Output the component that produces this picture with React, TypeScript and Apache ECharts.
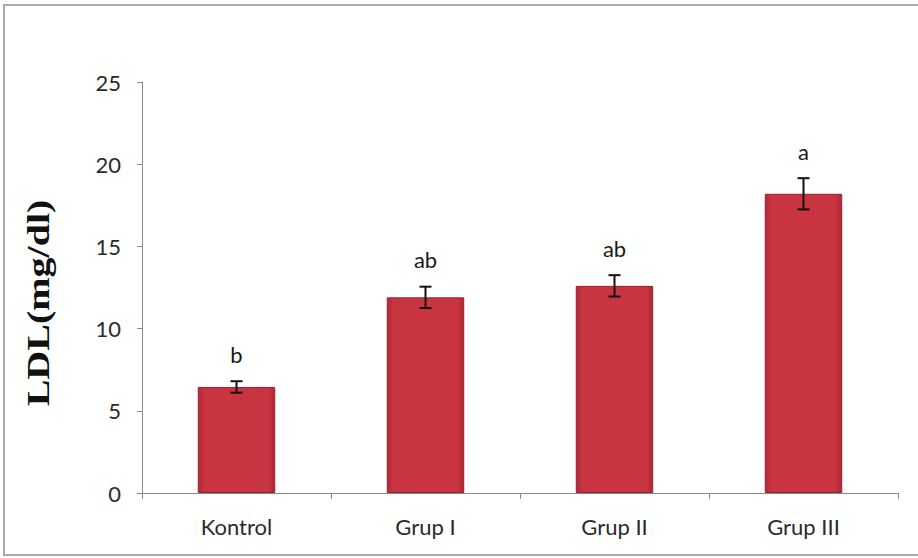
import React, { useEffect, useRef } from "react";
import * as echarts from "echarts";

// Groups and measured LDL values (mean ± error)
const categories = ["Kontrol", "Grup I", "Grup II", "Grup III"];
const meanValues = [6.45, 11.9, 12.6, 18.2];
const errorValues = [0.35, 0.65, 0.65, 0.95];
const significanceLetters = ["b", "ab", "ab", "a"];
const yTicks = { min: 0, max: 25, interval: 5 };

const tickFont = "Lato, 'Open Sans', 'Liberation Sans', sans-serif";

export default function App() {
  const ref = useRef<HTMLDivElement>(null);

  useEffect(() => {
    if (!ref.current) return;
    const chart = echarts.init(ref.current, undefined, { renderer: "svg" });

    const errorData = meanValues.map((m, i) => [i, m, errorValues[i]]);

    const option: echarts.EChartsOption = {
      animation: false,
      backgroundColor: "#ffffff",
      grid: { left: 142, right: 20, top: 82, bottom: 65 },
      graphic: [
        {
          type: "rect",
          shape: { x: 4, y: 5, width: 930, height: 550 },
          style: { fill: "none", stroke: "#a9a9a9", lineWidth: 2 },
          silent: true,
        },
        {
          type: "text",
          x: 38,
          y: 303,
          rotation: Math.PI / 2,
          scaleX: 1.25,
          style: {
            text: "LDL(mg/dl)",
            font: "bold 32px 'Liberation Serif', 'Times New Roman', serif",
            fill: "#111111",
            align: "center",
            verticalAlign: "middle",
          },
        },
      ],
      xAxis: {
        type: "category",
        data: categories,
        axisLine: { lineStyle: { color: "#8a8a8a", width: 1 } },
        axisTick: { show: true, length: 6, lineStyle: { color: "#8a8a8a" } },
        axisLabel: {
          color: "#2a2a2a",
          fontSize: 22,
          fontFamily: tickFont,
          margin: 22,
        },
      },
      yAxis: {
        type: "value",
        min: yTicks.min,
        max: yTicks.max,
        interval: yTicks.interval,
        splitLine: { show: false },
        axisLine: { show: true, lineStyle: { color: "#8a8a8a", width: 1 } },
        axisTick: { show: true, length: 5, lineStyle: { color: "#8a8a8a" } },
        axisLabel: {
          color: "#2a2a2a",
          fontSize: 22,
          fontFamily: tickFont,
          margin: 21,
        },
      },
      series: [
        {
          type: "bar",
          data: meanValues,
          barWidth: "41%",
          itemStyle: {
            color: new echarts.graphic.LinearGradient(0, 0, 1, 0, [
              { offset: 0, color: "#b0283a" },
              { offset: 0.08, color: "#c8343f" },
              { offset: 0.92, color: "#c8343f" },
              { offset: 1, color: "#ac2636" },
            ]),
            borderColor: "#9a2030",
            borderWidth: 1,
          },
        },
        {
          type: "custom",
          data: errorData,
          z: 10,
          renderItem: (params: any, api: any) => {
            const i = api.value(0);
            const m = api.value(1);
            const e = api.value(2);
            const top = api.coord([i, m + e]);
            const bottom = api.coord([i, m - e]);
            const half = 6;
            const style = { stroke: "#111111", lineWidth: 2 };
            return {
              type: "group",
              children: [
                {
                  type: "line",
                  shape: { x1: top[0], y1: top[1], x2: bottom[0], y2: bottom[1] },
                  style,
                },
                {
                  type: "line",
                  shape: { x1: top[0] - half, y1: top[1], x2: top[0] + half, y2: top[1] },
                  style,
                },
                {
                  type: "line",
                  shape: {
                    x1: bottom[0] - half,
                    y1: bottom[1],
                    x2: bottom[0] + half,
                    y2: bottom[1],
                  },
                  style,
                },
                {
                  type: "text",
                  x: top[0],
                  y: top[1] - 16,
                  style: {
                    text: significanceLetters[params.dataIndex],
                    font: `22px ${tickFont}`,
                    fill: "#1a1a1a",
                    align: "center",
                    verticalAlign: "bottom",
                  },
                },
              ],
            };
          },
        },
      ],
    };

    chart.setOption(option);
    return () => chart.dispose();
  }, []);

  return (
    <div
      ref={ref}
      style={{ position: "absolute", left: 0, top: 0, width: 918, height: 558 }}
    />
  );
}
